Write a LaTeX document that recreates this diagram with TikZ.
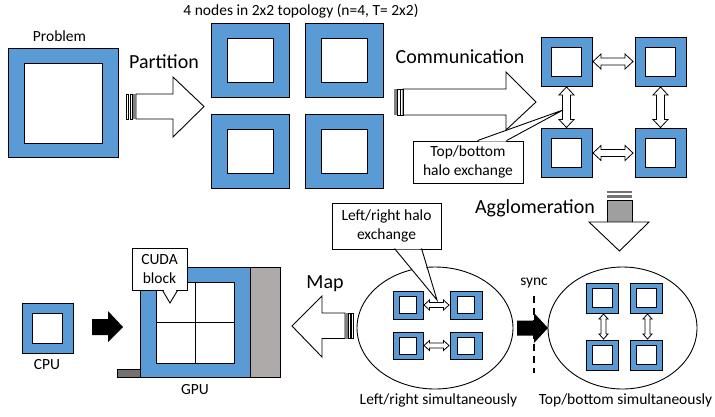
\documentclass[tikz,border=0pt]{standalone}
\usepackage{fontspec}
\setmainfont{Carlito}
\usetikzlibrary{calc,shapes.geometric}
\definecolor{tblue}{HTML}{5B9BD5}
\definecolor{ggray}{HTML}{AEAAAA}
\definecolor{dgray}{HTML}{767171}
\newcommand\HDArrow[5]{\draw[fill=white,line width=0.8pt] let \p1=(#1),\p2=(#2) in (\x1,\y1) -- (\x1+#5,\y1+#4) -- (\x1+#5,\y1+#3) -- (\x2-#5,\y1+#3) -- (\x2-#5,\y1+#4) -- (\x2,\y1) -- (\x2-#5,\y1-#4) -- (\x2-#5,\y1-#3) -- (\x1+#5,\y1-#3) -- (\x1+#5,\y1-#4) -- cycle;}
\newcommand\VDArrow[5]{\draw[fill=white,line width=0.8pt] let \p1=(#1),\p2=(#2) in (\x1,\y1) -- (\x1+#4,\y1-#5) -- (\x1+#3,\y1-#5) -- (\x1+#3,\y2+#5) -- (\x1+#4,\y2+#5) -- (\x1,\y2) -- (\x1-#4,\y2+#5) -- (\x1-#3,\y2+#5) -- (\x1-#3,\y1-#5) -- (\x1-#4,\y1-#5) -- cycle;}
\begin{document}
\begin{tikzpicture}[x=1pt,y=-1pt,line width=0.9pt,
  tile/.style 2 args={draw,fill=tblue,minimum width=#1,minimum height=#2,inner sep=0pt,outer sep=0pt},
  hole/.style 2 args={draw,fill=white,minimum width=#1,minimum height=#2,inner sep=0pt,outer sep=0pt},
  lbl/.style={inner sep=0pt,font=\fontsize{15.5}{18}\selectfont},
  big/.style={inner sep=0pt,font=\fontsize{20}{24}\selectfont},
  callbox/.style={draw,fill=white,align=center,inner sep=0pt,font=\fontsize{15.5}{18.5}\selectfont}]
\useasboundingbox (0,0) rectangle (715,416);
\fill[white] (0,0) rectangle (715,416);

% Problem
\node[lbl] (tProblem) at (59.5,36) {Problem};
\node[tile={110pt}{109pt}] (prob) at (63,102.5) {};
\node[hole={78pt}{80pt}] (probh) at (63,103) {};

% Partition arrow
\node[big] (tPartition) at (164,62) {Partition};
\draw[fill=white] (136,94) -- (173,94) -- (173,77) -- (204,106.5) -- (173,137) -- (173,119) -- (136,119) -- cycle;
\draw[line width=0.6pt] (126,94) rectangle (128.3,119);
\draw[line width=0.6pt] (129.8,94) rectangle (132.3,119);
\fill[gray] (133,94) rectangle (136,119);

% 4 nodes
\node[lbl] (tTitle) at (301,11) {4 nodes in 2x2 topology (n=4, T= 2x2)};
\node[tile={78pt}{74pt}] (pTL) at (250,60) {};
\node[tile={78pt}{74pt}] (pTR) at (344,60) {};
\node[tile={78pt}{74pt}] (pBL) at (250,151) {};
\node[tile={78pt}{74pt}] (pBR) at (344,151) {};
\foreach \n in {pTL,pTR,pBL,pBR} \node[hole={46pt}{44pt}] at (\n) {};

% Communication arrow
\node[big] (tComm) at (460,57) {Communication};
\draw[fill=white] (403,89) -- (506,89) -- (506,72) -- (536,102) -- (506,130) -- (506,115) -- (403,115) -- cycle;
\fill[gray] (394,89) rectangle (397,115);
\draw[line width=0.6pt] (397.6,89) rectangle (400,115);
\draw[line width=0.6pt] (400.6,89) rectangle (403,115);

% Comm tiles
\node[tile={51pt}{49pt}] (cTL) at (566.5,61.5) {};
\node[tile={51pt}{49pt}] (cTR) at (660.5,61.5) {};
\node[tile={51pt}{49pt}] (cBL) at (566.5,153) {};
\node[tile={51pt}{49pt}] (cBR) at (660.5,153) {};
\foreach \n in {cTL,cTR,cBL,cBR} \node[hole={30pt}{29pt}] at (\n) {};
\HDArrow{$(cTL.east)+(1,0)$}{$(cTR.west)+(-2,0)$}{3.5pt}{7.5pt}{8pt}
\HDArrow{$(cBL.east)+(1,0)$}{$(cBR.west)+(-2,0)$}{3.5pt}{7.5pt}{8pt}
\VDArrow{$(cTL.south)+(0,1)$}{$(cBL.north)+(0,-1)$}{4pt}{7.5pt}{8pt}
\VDArrow{$(cTR.south)+(0,1)$}{$(cBR.north)+(0,-1)$}{4pt}{7.5pt}{8pt}

% Top/bottom callout
\node[callbox,minimum width=110pt,minimum height=42pt] (cbTB) at (468,162) {Top/bottom\\halo exchange};
\coordinate (tipTB) at (563,110);
\fill[white] ($(cbTB.north west)+(66,1)$) -- (tipTB) -- ($(cbTB.north west)+(93,1)$) -- cycle;
\draw ($(cbTB.north west)+(65,0)$) -- (tipTB) -- ($(cbTB.north west)+(94,0)$);

% Agglomeration arrow
\node[big] (tAgg) at (535,208) {Agglomeration};
\fill[dgray] (607,191) rectangle (632,193.2);
\fill[dgray] (607,195) rectangle (632,197.5);
\draw[fill=gray!75,line width=0.7pt] (607,200) rectangle (632,222);
\draw[fill=white] (607,222) -- (589,222) -- (619.5,251) -- (649,222) -- (632,222) -- cycle;

% Left ellipse
\node[draw,ellipse,minimum width=156pt,minimum height=122pt,inner sep=0pt] (ellL) at (435,328) {};
\node[tile={30pt}{28pt}] (lTL) at (408,305) {};
\node[tile={32pt}{28pt}] (lTR) at (466,305) {};
\node[tile={30pt}{27pt}] (lBL) at (408,345.5) {};
\node[tile={32pt}{27pt}] (lBR) at (466,345.5) {};
\foreach \n in {lTL,lTR,lBL,lBR} \node[hole={17pt}{17pt}] at (\n) {};
\HDArrow{$(lTL.east)+(1,0)$}{$(lTR.west)+(-1,0)$}{2.5pt}{5pt}{5.5pt}
\HDArrow{$(lBL.east)+(1,0)$}{$(lBR.west)+(-1,0)$}{2.5pt}{5pt}{5.5pt}

% Left/right callout
\node[callbox,minimum width=109pt,minimum height=46pt] (cbLR) at (386.5,226) {Left/right halo\\exchange};
\coordinate (tipLR) at (437,300);
\fill[white] ($(cbLR.north west)+(64,47)$) -- (tipLR) -- ($(cbLR.north west)+(89,47)$) -- cycle;
\draw ($(cbLR.north west)+(63,46)$) -- (tipLR) -- ($(cbLR.north west)+(90,46)$);

% sync
\node[lbl] (tSync) at (534,283) {sync};
\coordinate (syncTop) at (534,296);
\coordinate (syncBot) at (534,373);
\draw[line width=1.3pt,dash pattern=on 7pt off 5pt] (syncTop) -- (syncBot);
\fill[black] (517,320.5) -- (534,320.5) -- (534,313) -- (548,328) -- (534,343) -- (534,335.5) -- (517,335.5) -- cycle;

% Right ellipse
\node[draw,ellipse,minimum width=149pt,minimum height=122pt,inner sep=0pt] (ellR) at (622.5,328) {};
\node[tile={32pt}{30pt}] (rTL) at (602,298) {};
\node[tile={32pt}{30pt}] (rTR) at (646,298) {};
\node[tile={32pt}{30pt}] (rBL) at (602,355) {};
\node[tile={32pt}{30pt}] (rBR) at (646,355) {};
\foreach \n in {rTL,rTR,rBL,rBR} \node[hole={20pt}{19pt}] at (\n) {};
\VDArrow{$(rTL.south)+(1.5,1)$}{$(rBL.north)+(1.5,-1)$}{2.5pt}{4.5pt}{5pt}
\VDArrow{$(rTR.south)+(1.5,1)$}{$(rBR.north)+(1.5,-1)$}{2.5pt}{4.5pt}{5pt}

\node[lbl] (tLRsim) at (438.5,400) {Left/right simultaneously};
\node[lbl] (tTBsim) at (625.5,400) {Top/bottom simultaneously};

% Map arrow
\node[big] (tMap) at (325,284) {Map};
\draw[fill=white] (345,313) -- (322,313) -- (322,296) -- (292,326) -- (322,357) -- (322,338.5) -- (345,338.5) -- cycle;
\fill[gray] (345,313) rectangle (348,338.5);
\draw[line width=0.6pt] (348.6,313) rectangle (350.6,338.5);
\draw[line width=0.6pt] (351.2,313) rectangle (353.2,338.5);

% GPU
\node[tile={110pt}{110pt}] (gpu) at (195,322) {};
\node[draw,fill=ggray,minimum width=30pt,minimum height=110pt,inner sep=0pt,outer sep=0pt,anchor=west] (gside) at (gpu.east) {};
\node[draw,fill=dgray,minimum width=23pt,minimum height=8pt,inner sep=0pt,outer sep=0pt,anchor=south east,line width=0.7pt] (gfoot) at (gpu.south west) {};
\node[hole={78pt}{81pt}] (grid) at (195,322.5) {};
\draw (grid.north) -- (grid.south);
\draw (grid.west) -- (grid.east);
\node[lbl] (tGPU) at (195,390) {GPU};

% CUDA callout
\node[callbox,minimum width=55pt,minimum height=42pt] (cbCU) at (159.5,269) {CUDA\\block};
\coordinate (tipCU) at (170,303);
\fill[white] ($(cbCU.south west)+(32,-1)$) -- (tipCU) -- ($(cbCU.south west)+(45,-1)$) -- cycle;
\draw ($(cbCU.south west)+(31,0)$) -- (tipCU) -- ($(cbCU.south west)+(46,0)$);

% CPU
\node[tile={51pt}{50pt}] (cpu) at (47.5,328) {};
\node[hole={30pt}{30pt}] (cpuh) at (47,328) {};
\node[lbl] (tCPU) at (47,365) {CPU};
\fill[black] (92,319) -- (108,319) -- (108,311) -- (123,327) -- (108,342) -- (108,335) -- (92,335) -- cycle;
\end{tikzpicture}
\end{document}
